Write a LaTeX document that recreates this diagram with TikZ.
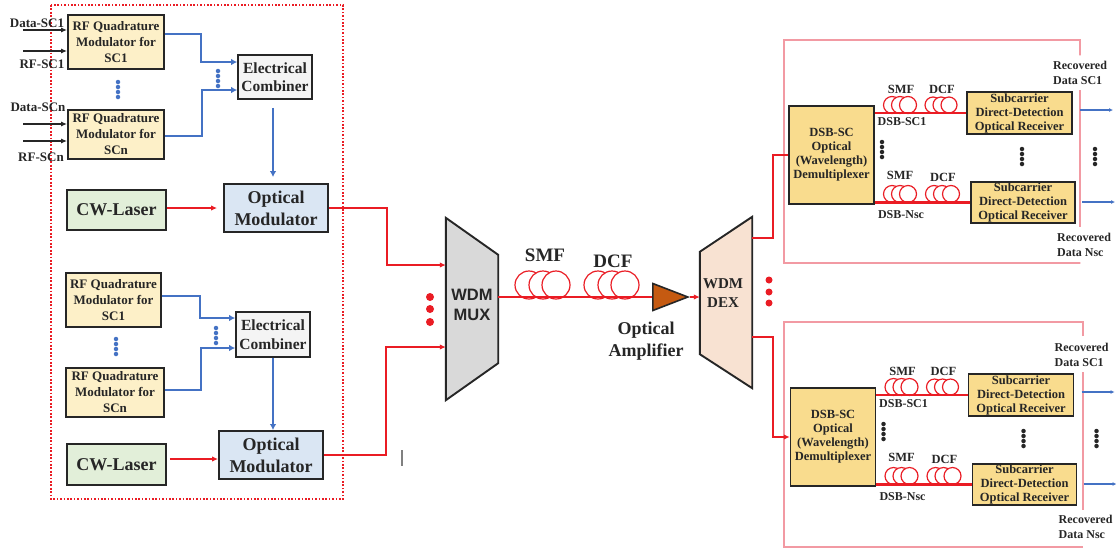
\documentclass[tikz,border=0pt]{standalone}
\usepackage{fontspec}
\setmainfont{Liberation Serif}
\newfontfamily\arialfont{Liberation Sans}
\usetikzlibrary{arrows.meta,shapes.geometric}
\definecolor{inkc}{HTML}{262626}
\definecolor{redc}{HTML}{EA1C24}
\definecolor{bluec}{HTML}{4472C4}
\definecolor{pinkc}{HTML}{F29AA3}
\definecolor{rffill}{HTML}{FDF0C8}
\definecolor{cwfill}{HTML}{E2EFD9}
\definecolor{omfill}{HTML}{DAE6F3}
\definecolor{cbfill}{HTML}{F4F4F4}
\definecolor{rxfill}{HTML}{F9DC8E}
\definecolor{muxfill}{HTML}{D9D9D9}
\definecolor{dexfill}{HTML}{F8E2D2}
\definecolor{ampfill}{HTML}{C55A11}
\tikzset{
  blockbox/.style={draw=inkc,line width=1.9pt,inner sep=0pt,align=center,text=inkc,font=\bfseries},
  rfbox/.style={blockbox,fill=rffill,font=\fontsize{13}{16}\selectfont\bfseries},
  combox/.style={blockbox,fill=cbfill,line width=1.7pt,minimum width=74pt,font=\fontsize{15.5}{18.5}\selectfont\bfseries},
  ombox/.style={blockbox,fill=omfill,minimum width=104pt,minimum height=48pt,font=\fontsize{18}{22}\selectfont\bfseries},
  cwbox/.style={blockbox,fill=cwfill,minimum width=99pt,font=\fontsize{18}{22}\selectfont\bfseries},
  rxbox/.style={blockbox,fill=rxfill,line width=1.5pt,font=\fontsize{12.5}{14}\selectfont\bfseries},
  lab/.style={inner sep=0pt,align=center,text=inkc,font=\fontsize{#1}{#1}\selectfont\bfseries},
  labs/.style={inner sep=0pt,align=left,anchor=west,text=inkc,font=\fontsize{12}{15}\selectfont\bfseries},
  blueline/.style={draw=bluec,line width=2pt,-{Latex[length=6pt,width=6.5pt]}},
  blackin/.style={draw=inkc,line width=1.1pt,-{Latex[length=6pt,width=5pt]}},
  redline/.style={draw=redc,line width=2.1pt},
  redarrow/.style={redline,-{Latex[length=6pt,width=5.5pt]}},
  thinblue/.style={draw=bluec,line width=1.1pt,-{Latex[length=4pt,width=4pt]}},
  coil/.style={circle,draw=redc,fill=white,line width=1.2pt,inner sep=0pt,minimum size=#1},
  reddot/.style={circle,fill=redc,inner sep=0pt,minimum size=#1},
  dotb/.style={circle,fill=bluec,inner sep=0pt,minimum size=4.5pt},
  dotk/.style={circle,fill=black!85,inner sep=0pt,minimum size=4.5pt},
  muxshape/.style={inner sep=0pt,minimum width=52pt},
  pinkbox/.style={draw=pinkc,line width=1.1pt},
}
\newcommand{\vdotsat}[4]{% style, x, top y, step
  \foreach \k in {0,1,2,3}{\node[#1] at (#2,{#3+\k*#4}) {};}}
\newcommand{\rxblock}[1]{%
  \node[rxbox,minimum width=85pt,minimum height=98pt] (#1dsb) at (831.5,155) {DSB-SC\\Optical\\(Wavelength)\\Demultiplexer};
  \node[rxbox,minimum width=105pt,minimum height=42pt] (#1rxa) at (1019.5,113) {Subcarrier\\Direct-Detection\\Optical Receiver};
  \node[rxbox,minimum width=104pt,minimum height=41pt] (#1rxb) at (1023,202.5) {Subcarrier\\Direct-Detection\\Optical Receiver};
  \node[coil=17pt] (#1sa) at (892,105) {}; \node[coil=17pt] (#1sb) at (900,105) {}; \node[coil=17pt] (#1sc) at (908,105) {};
  \node[coil=16pt] (#1da) at (933,105) {}; \node[coil=16pt] (#1db) at (941,105) {}; \node[coil=16pt] (#1dc) at (949,105) {};
  \node[coil=17pt] (#1se) at (892,194) {}; \node[coil=17pt] (#1sf) at (900,194) {}; \node[coil=17pt] (#1sg) at (908,194) {};
  \node[coil=17pt] (#1dd) at (934,194) {}; \node[coil=17pt] (#1de) at (942,194) {}; \node[coil=17pt] (#1df) at (951,194) {};
  \draw[redline] (#1dsb.east |- #1rxa.west) -- (#1rxa.west);
  \draw[redline] (#1dsb.east |- #1rxb.west) -- (#1rxb.west);
  \node[lab=12.5] (#1l1) at (901,89) {SMF};
  \node[lab=12.5] (#1l2) at (942,89) {DCF};
  \node[lab=12] (#1l3) at (902,122) {DSB-SC1};
  \node[lab=12.5] (#1l4) at (900,175) {SMF};
  \node[lab=12.5] (#1l5) at (943,177) {DCF};
  \node[lab=12] (#1l6) at (901,215) {DSB-Nsc};
  \vdotsat{dotk}{882}{142}{5}
  \vdotsat{dotk}{1022}{149}{5}
  \vdotsat{dotk}{1095}{149}{5}
  \node[labs] (#1r1) at (1053,72.5) {Recovered\\Data SC1};
  \node[labs] (#1r2) at (1057,244.5) {Recovered\\Data Nsc};
  \coordinate (#1oa) at (1080,110); \coordinate (#1ob) at (1113,110);
  \coordinate (#1oc) at (1082,202); \coordinate (#1od) at (1115,202);
  \draw[thinblue] (#1oa) -- (#1ob);
  \draw[thinblue] (#1oc) -- (#1od);
}
\begin{document}
\begin{tikzpicture}[x=1pt,y=-1pt]
\useasboundingbox (0,0) rectangle (1116,550);
\fill[white] (0,0) rectangle (1116,550);
% transmitter frame
\draw[draw=redc,line width=1.7pt,dash pattern=on 1.7pt off 1.7pt] (51,5) rectangle (343,499);
% blocks
\node[rfbox,minimum width=96pt,minimum height=54pt] (rf1) at (116,42) {RF Quadrature\\Modulator for\\SC1};
\node[rfbox,minimum width=96pt,minimum height=49pt] (rf2) at (116,134.5) {RF Quadrature\\Modulator for\\SCn};
\node[combox,minimum height=44pt] (cb1) at (275,77) {Electrical\\Combiner};
\node[ombox] (om1) at (276,208) {Optical\\Modulator};
\node[cwbox,minimum height=40pt] (cw1) at (116.5,210) {CW-Laser};
\node[rfbox,minimum width=95pt,minimum height=54pt] (rf3) at (113.5,300) {RF Quadrature\\Modulator for\\SC1};
\node[rfbox,minimum width=98pt,minimum height=49pt] (rf4) at (115,392.5) {RF Quadrature\\Modulator for\\SCn};
\node[combox,minimum height=45pt] (cb2) at (273,334.5) {Electrical\\Combiner};
\node[ombox] (om2) at (271,455) {Optical\\Modulator};
\node[cwbox,minimum height=41pt] (cw2) at (116.5,464.5) {CW-Laser};
% inputs
\node[lab=13] (ld1) at (37,23) {Data-SC1};
\node[lab=13] (lr1) at (42,64) {RF-SC1};
\node[lab=13] (ld2) at (38,107) {Data-SCn};
\node[lab=13] (lr2) at (41,157) {RF-SCn};
\coordinate (i1) at (23,30); \coordinate (i2) at (23,51); \coordinate (i3) at (23,124); \coordinate (i4) at (23,141);
\draw[blackin] (i1) -- (rf1.west |- i1);
\draw[blackin] (i2) -- (rf1.west |- i2);
\draw[blackin] (i3) -- (rf2.west |- i3);
\draw[blackin] (i4) -- (rf2.west |- i4);
% electrical paths
\draw[blueline] ([yshift=8pt]rf1.east) -- ++(36,0) |- ([yshift=15pt]cb1.west);
\draw[blueline] ([yshift=-1.5pt]rf2.east) -- ++(37,0) |- ([yshift=-13pt]cb1.west);
\draw[blueline] ([yshift=4pt]rf3.east) -- ++(38,0) |- ([yshift=16.5pt]cb2.west);
\draw[blueline] ([yshift=2.5pt]rf4.east) -- ++(36,0) |- ([yshift=-13.5pt]cb2.west);
\draw[blueline,shorten <=8pt,shorten >=6pt] ([xshift=-2pt]cb1.south) -- ([xshift=-3pt]om1.north);
\draw[blueline] (cb2.south) -- (cb2.south |- om2.north);
\vdotsat{dotb}{118}{82}{5}
\vdotsat{dotb}{218}{71}{5}
\vdotsat{dotb}{116}{339}{5}
\vdotsat{dotb}{216}{328}{5}
% laser to modulator
\draw[redarrow,shorten >=6pt] (cw1.east |- om1.west) -- (om1.west);
\draw[redarrow,shorten <=3pt] ([yshift=5.5pt]cw2.east) -- ([yshift=-4pt]om2.west);
% MUX / DEX
\node[muxshape,minimum height=182pt] (mux) at (472,309) {};
\filldraw[draw=inkc,line width=1.9pt,fill=muxfill] (mux.north west) -- ([yshift=-37pt]mux.north east) -- ([yshift=37pt]mux.south east) -- (mux.south west) -- cycle;
\node[lab=16.5,font=\fontsize{16.5}{20}\selectfont\bfseries\arialfont] (muxl) at (472,305) {WDM\\MUX};
\node[muxshape,minimum height=171pt] (dex) at (726,302.5) {};
\filldraw[draw=inkc,line width=1.9pt,fill=dexfill] ([yshift=-35pt]dex.north west) -- (dex.north east) -- (dex.south east) -- ([yshift=34pt]dex.south west) -- cycle;
\node[inner sep=0pt,align=center,text=inkc,font=\fontsize{15}{19}\selectfont\bfseries] (dexl) at (723,293.5) {WDM\\DEX};
\draw[redarrow] (om1.east) -- ++(58,0) |- ([yshift=44pt]mux.west);
\draw[redarrow] (om2.east) -- ++(62,0) |- ([yshift=-38pt]mux.west);
\node[reddot=8pt] (m1) at (430,297) {}; \node[reddot=8pt] (m2) at (430,309) {}; \node[reddot=8pt] (m3) at (430,322) {};
\node[reddot=7pt] (d1) at (769,280) {}; \node[reddot=7pt] (d2) at (769,292) {}; \node[reddot=7pt] (d3) at (769,303) {};
% line
\node[coil=28pt] (s1) at (529,285) {}; \node[coil=28pt] (s2) at (543,285) {}; \node[coil=28pt] (s3) at (556,285) {};
\node[coil=28pt] (c1) at (598,285) {}; \node[coil=28pt] (c2) at (612,285) {}; \node[coil=28pt] (c3) at (625,285) {};
\node[isosceles triangle,isosceles triangle stretches,shape border rotate=0,draw=inkc,line width=1.6pt,fill=ampfill,inner sep=0pt,minimum width=27pt,minimum height=35pt,anchor=lower side] (amp) at (652,297) {};
\draw[redline] (mux.east |- amp.lower side) -- (amp.lower side);
\draw[redarrow] (amp.apex) -- (dex.west |- amp.apex);
\node[lab=19] (lsmf) at (545,255) {SMF};
\node[lab=19] (ldcf) at (613,261) {DCF};
\node[inner sep=0pt,align=center,text=inkc,font=\fontsize{18}{22}\selectfont\bfseries] (lamp) at (646,341) {Optical\\Amplifier};
% receiver frames
\draw[pinkbox,line cap=round] (1080,55) -- (1080,40) -- (784,40) -- (784,263) -- (1080,263);
\draw[pinkbox] (1080,90) -- (1080,227);
\draw[pinkbox] (1083,336) -- (1083,322) -- (784,322) -- (784,547) -- (1083,547);
\draw[pinkbox] (1083,372) -- (1083,510);
\rxblock{u}
\begin{scope}[shift={(1.5,282)}]
\rxblock{w}
\end{scope}
\draw[redline] ([yshift=64.5pt]dex.east) -- ++(21,0) |- (udsb.west);
\draw[redarrow] ([yshift=-34.5pt]dex.east) -- ++(21,0) |- (wdsb.west);
% stray mark
\draw[draw=gray,line width=1.2pt] (402,450) -- (402,466);
\end{tikzpicture}
\end{document}
